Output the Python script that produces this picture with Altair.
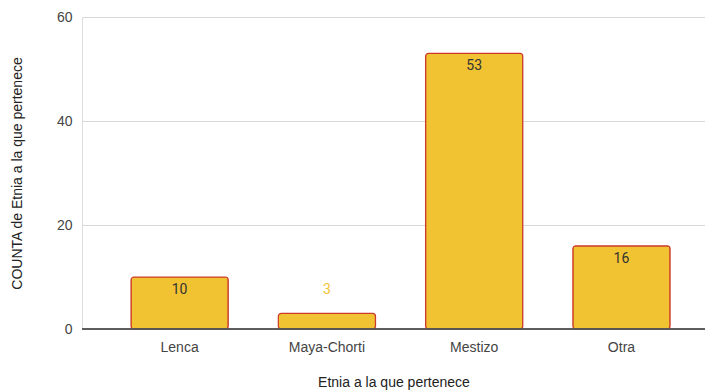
import altair as alt
import pandas as pd

categories = ["Lenca", "Maya-Chorti", "Mestizo", "Otra"]
values = [10, 3, 53, 16]

df = pd.DataFrame({"etnia": categories, "count": values})

AFONT = "Liberation Sans"
DFONT = "Roboto"

x = alt.X("etnia:N", sort=categories, title="Etnia a la que pertenece",
          scale=alt.Scale(paddingInner=0.34, paddingOuter=0.285, align=0.584),
          axis=alt.Axis(labelAngle=0, ticks=False, domain=False, labelPadding=11,
                        labelFontSize=14, labelColor="#444444", labelFont=AFONT,
                        titleFontSize=14, titleFontWeight="normal", titleColor="#222222",
                        titleFont=AFONT, titlePadding=21))
y = alt.Y("count:Q", title="COUNTA de Etnia a la que pertenece",
          scale=alt.Scale(domain=[0, 60], nice=False),
          axis=alt.Axis(values=[0, 20, 40, 60], ticks=False, domain=False, labelPadding=10,
                        labelFontSize=14, labelColor="#444444", labelFont=AFONT,
                        gridColor="#d9d9d9", titleFontSize=14, titleFontWeight="normal",
                        titleColor="#222222", titleFont=AFONT, titlePadding=32))

bars = alt.Chart(df).mark_bar(color="#F1C232", stroke="#CC3B2A", strokeWidth=1.2,
                              cornerRadius=3).encode(x=x, y=y)

zero = alt.Chart(df).mark_rule(color="#555555", strokeWidth=1.2).encode(
    y=alt.datum(0))

inside = alt.Chart(df).transform_filter("datum.count >= 5").mark_text(
    baseline="top", dy=6, fontSize=14, font=DFONT, color="#333333").encode(
    x=alt.X("etnia:N", sort=categories), y="count:Q", text="count:Q")

outside = alt.Chart(df).transform_filter("datum.count < 5").mark_text(
    baseline="bottom", dy=-16, fontSize=14, font=DFONT, color="#F1C232").encode(
    x=alt.X("etnia:N", sort=categories), y="count:Q", text="count:Q")

chart = alt.layer(bars, zero, inside, outside).properties(
    width=623, height=312,
    autosize=alt.AutoSizeParams(type="none"),
    padding={"left": 74, "top": 9, "right": 0, "bottom": 62},
).configure_view(stroke=None).configure(background="white")

chart.save("out.html", embed_options={"renderer": "svg", "actions": False})
